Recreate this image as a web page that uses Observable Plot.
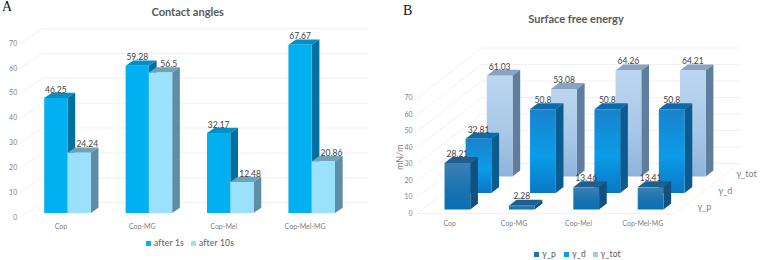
<!DOCTYPE html>
<html><head><meta charset="utf-8">
<script src="https://cdn.jsdelivr.net/npm/d3@7"></script>
<script src="https://cdn.jsdelivr.net/npm/@observablehq/plot@0.6"></script>
<style>
html,body{margin:0;padding:0;background:#fff}
#root{position:relative;width:761px;height:260px;overflow:hidden;font-family:Lato,sans-serif}
#a,#b{position:absolute;top:0}
#a{left:0}#b{left:380px}
.t{position:absolute;white-space:nowrap;line-height:1}
.title{font-weight:700;font-size:11px;color:#595959;transform:translateX(-50%)}
.panel{font-family:"Liberation Serif",serif;font-size:14px;color:#111}
.leg{font-size:8.5px;color:#595959;letter-spacing:.2px}
.sw{position:absolute;width:5px;height:5px}
g[aria-label="shadow"]{filter:blur(1.2px)}
svg{overflow:visible}
</style></head><body>
<div id="root"><div id="a"></div><div id="b"></div></div>
<script>
const categories=["Cop","Cop-MG","Cop-Mel","Cop-Mel-MG"];
const after1s=[46.25,59.28,32.17,67.67];
const after10s=[24.24,56.5,12.48,20.86];
const gammaP=[28.21,2.28,13.46,13.41];
const gammaD=[32.81,50.8,50.8,50.8];
const gammaTot=[61.03,53.08,64.26,64.21];
const yTicks=[0,10,20,30,40,50,60,70];
const rowNames=["γ_p","γ_d","γ_tot"];

// oblique projection: t is depth (0 front plane, 1 back wall)
const proj=(D)=>(c,v,t)=>({c:c+t*D.dc,v:v+t*D.dv});
function face(p,pts){return pts.map(([c,v,t])=>p(c,v,t));}
function barMarks(p,{c0,c1,v,t0,t1,front,top,side}){
  const opt=f=>({x:"c",y:"v",fill:f,stroke:"none",curve:"linear-closed"});
  return [
    Plot.line(face(p,[[c0,v,t0],[c1,v,t0],[c1,v,t1],[c0,v,t1]]),opt(top)),
    Plot.line(face(p,[[c1,0,t0],[c1,0,t1],[c1,v,t1],[c1,v,t0]]),opt(side)),
    Plot.line(face(p,[[c0,0,t0],[c1,0,t0],[c1,v,t0],[c0,v,t0]]),opt(front))
  ];
}
function gridMarks(p,stroke){
  return yTicks.map(v=>Plot.line(face(p,[[0,v,0],[0,v,1],[4,v,1]]),{x:"c",y:"v",stroke,strokeWidth:.8}));
}
const textBase={fontFamily:"Lato,sans-serif"};

// ---------- Panel A ----------
{
  const D={dc:22/81.4,dv:6};const p=proj(D);
  const t0=.3,t1=.65,w=.286;
  const series=[
   {vals:after1s,side:-1,front:"#00b0f0",top:"#0090c6",side_:"#00709f",lab:0},
   {vals:after10s,side:0,front:"#99e1fc",top:"#70a3b8",side_:"#5e8da6",lab:.1}];
  const bars=[];const labels=[];
  categories.forEach((_,i)=>{
    series.forEach(s=>{
      const c0=i+.5+s.side*w, c1=c0+w, v=s.vals[i];
      bars.push(...barMarks(p,{c0,c1,v,t0,t1,front:s.front,top:s.top,side:s.side_}));
      labels.push({c:p(c0+w/2+s.lab,v,t0).c,v:p(c0,v,t1).v,text:String(v)});
    });
  });
  const plot=Plot.plot({width:380,height:260,marginLeft:19.7,marginRight:0,marginTop:0,marginBottom:0,
    x:{domain:[0,4],range:[19.7,345.3],axis:null},
    y:{domain:[0,70],range:[217,43],axis:null},
    marks:[
      ...gridMarks(p,"#eeeeee"),
      Plot.axisY(yTicks,{anchor:"left",tickSize:0,tickPadding:3,fontSize:7,fill:"#7f7f7f",label:null,...textBase}),
      ...bars,
      Plot.text(labels,{x:"c",y:"v",text:"text",dy:-3,fontSize:8.5,fill:"#404040",...textBase}),
      Plot.text(categories,{x:(d,i)=>i+.5,y:()=>0,text:d=>d,dy:9.5,fontSize:7,fill:"#7f7f7f",...textBase})
    ]});
  document.getElementById("a").append(plot);
}

// ---------- Panel B ----------
{
  const D={dc:64/64.4,dv:50/1.65};const p=proj(D);
  const rowT=[.08,.41,.74],dt=.12,w=.4,shift=.04;
  const defs=()=>{
    const g=document.createElementNS("http://www.w3.org/2000/svg","defs");
    const grad=(id,a,b,c)=>`<linearGradient id="${id}" x1="0" y1="0" x2="0" y2="1"><stop offset="0" stop-color="${a}"/><stop offset=".55" stop-color="${b}"/><stop offset="1" stop-color="${c}"/></linearGradient>`;
    g.innerHTML=grad("gp","#3c80b4","#1a74b0","#0a6fb4")+grad("gd","#1a82cb","#0b9ce9","#0a78c4")+grad("gt","#bcd6f0","#a8c8e8","#8fb3da");
    return g;
  };
  const series=[
   {vals:gammaTot,r:2,front:"url(#gt)",top:"#89a4c3",side:"#5f7d9c"},
   {vals:gammaD,r:1,front:"url(#gd)",top:"#0b6cad",side:"#0a5b8f"},
   {vals:gammaP,r:0,front:"url(#gp)",top:"#1f5f90",side:"#12507d"}];
  const marks=[];const labels=[];
  series.forEach(s=>{
    const t0=rowT[s.r],t1=t0+dt;
    s.vals.forEach((v,i)=>{
      const c0=i+.5+shift-w/2,c1=c0+w;
      marks.push(Plot.line(face(p,[[c0,0,t0],[c1,0,t0],[c1+.2,0,t0+.06],[c1+.2,0,t0+.13],[c1,0,t1]]),
        {x:"c",y:"v",fill:"#2a3a48",fillOpacity:.6,stroke:"none",curve:"linear-closed",ariaLabel:"shadow"}));
      marks.push(...barMarks(p,{c0,c1,v,t0,t1,front:s.front,top:s.top,side:s.side}));
      labels.push({c:p(c0+w/2,v,t0).c,v:p(c0,v,t1).v,text:String(v)});
    });
  });
  const rows=rowNames.map((name,r)=>({...p(4,0,rowT[r]),name}));
  const floor=face(p,[[0,0,0],[4,0,0],[4,0,1]]);
  const plot=Plot.plot({width:381,height:260,marginLeft:35,marginRight:0,marginTop:0,marginBottom:0,
    x:{domain:[0,4],range:[37,294.6],axis:null},
    y:{domain:[0,70],range:[213,97.5],axis:null},
    marks:[
      defs,
      ...gridMarks(p,"#eeeeee"),
      Plot.line(floor,{x:"c",y:"v",stroke:"#eeeeee",strokeWidth:.8}),
      Plot.axisY(yTicks,{anchor:"left",tickSize:0,tickPadding:3,fontSize:7,fill:"#7f7f7f",label:null,...textBase}),
      ...marks,
      Plot.text(labels,{x:"c",y:"v",text:"text",dy:-3,fontSize:8.5,fill:"#404040",...textBase}),
      Plot.text(categories,{x:(d,i)=>i+.5,y:()=>0,text:d=>d,dy:10,fontSize:7,fill:"#7f7f7f",...textBase}),
      Plot.text(rows,{x:"c",y:"v",text:"name",dx:24,dy:-2,fontSize:9,fill:"#7f7f7f",...textBase}),
      Plot.text(["mN/m"],{x:()=>0,y:()=>34,text:d=>d,frameAnchor:"left",textAnchor:"middle",dx:-17,rotate:-90,fontSize:9,fill:"#7f7f7f",...textBase})
    ]});
  document.getElementById("b").append(plot);
}

// ---------- Titles and legends ----------
const root=document.getElementById("root");
const addText=(cls,txt,x,y)=>{const e=document.createElement("div");e.className="t "+cls;e.textContent=txt;e.style.left=x+"px";e.style.top=y+"px";root.append(e);};
const addSw=(col,x,y)=>{const e=document.createElement("div");e.className="sw";e.style.background=col;e.style.left=x+"px";e.style.top=y+"px";root.append(e);};
addText("panel","A",2,0);
addText("panel","B",403,4);
addText("title","Contact angles",187.7,5.5);
addText("title","Surface free energy",576,12.5);
addSw("#00b0f0",146,240.5);addText("leg","after 1s",154,238.5);
addSw("#99e1fc",191,240.5);addText("leg","after 10s",199,238.5);
addSw("#1a74b0",534,251.5);addText("leg",rowNames[0],542,249.5);
addSw("#0b9ce9",564,251.5);addText("leg",rowNames[1],572,249.5);
addSw("#a8c8e8",593,251.5);addText("leg",rowNames[2],600.5,249.5);
</script>
</body></html>
